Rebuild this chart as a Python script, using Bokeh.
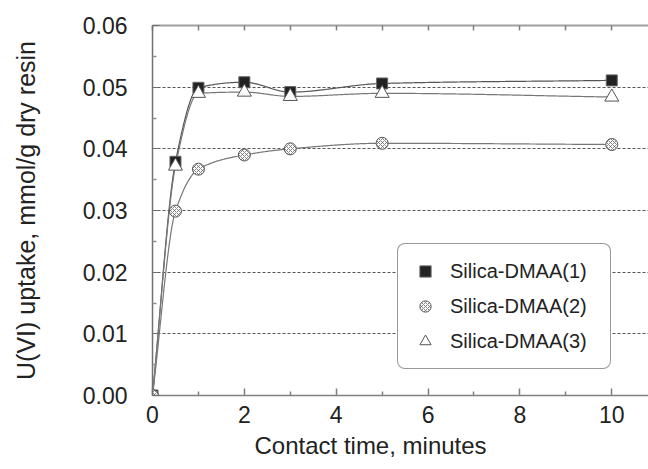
import numpy as np
from bokeh.plotting import figure
from bokeh.models import (Range1d, FixedTicker, PrintfTickFormatter, LinearAxis,
                          Legend, LegendItem, Title)
from bokeh.embed import file_html
from bokeh.resources import INLINE

# ---- data ----
time_min = [0, 0.5, 1, 2, 3, 5, 10]
dmaa1 = [0.0, 0.0379, 0.0499, 0.0508, 0.0492, 0.0506, 0.0511]
dmaa2 = [0.0, 0.0299, 0.0367, 0.0390, 0.0400, 0.0409, 0.0407]
dmaa3 = [0.0, 0.0372, 0.0490, 0.0492, 0.0485, 0.0490, 0.0484]
labels = ["Silica-DMAA(1)", "Silica-DMAA(2)", "Silica-DMAA(3)"]
x_ticks = [0, 2, 4, 6, 8, 10]
x_minor = [1, 3, 5, 7, 9]
top_ticks = [0, 1, 2, 3, 4, 5, 6, 7, 8, 9, 10]
y_ticks = [0.0, 0.01, 0.02, 0.03, 0.04, 0.05, 0.06]
y_minor = [0.005, 0.015, 0.025, 0.035, 0.045, 0.055]
grid_ticks = [0.01, 0.02, 0.03, 0.04, 0.05]
x_title = "Contact time, minutes"
y_title = "U(VI) uptake, mmol/g dry resin"

FONT = "Liberation Sans"
TXT = "#222222"


def pchip_curve(x, y, n=400):
    """Shape-preserving cubic Hermite curve through the data points."""
    x = np.asarray(x, float)
    y = np.asarray(y, float)
    h = np.diff(x)
    d = np.diff(y) / h
    m = np.zeros(len(x))
    m[0] = d[0]
    m[-1] = d[-1]
    for k in range(1, len(x) - 1):
        if d[k - 1] * d[k] <= 0:
            m[k] = 0.0
        else:
            w1 = 2 * h[k] + h[k - 1]
            w2 = h[k] + 2 * h[k - 1]
            m[k] = (w1 + w2) / (w1 / d[k - 1] + w2 / d[k])
    xs = np.linspace(x[0], x[-1], n)
    idx = np.clip(np.searchsorted(x, xs) - 1, 0, len(x) - 2)
    hh = h[idx]
    t = (xs - x[idx]) / hh
    h00 = 2 * t ** 3 - 3 * t ** 2 + 1
    h10 = t ** 3 - 2 * t ** 2 + t
    h01 = -2 * t ** 3 + 3 * t ** 2
    h11 = t ** 3 - t ** 2
    ys = h00 * y[idx] + h10 * hh * m[idx] + h01 * y[idx + 1] + h11 * hh * m[idx + 1]
    return xs, ys


p = figure(width=648, height=469, output_backend="svg", toolbar_location=None,
           x_range=Range1d(0, 10.8), y_range=Range1d(0, 0.06),
           min_border_left=152, min_border_right=0, min_border_top=25,
           min_border_bottom=74, background_fill_color="white",
           border_fill_color="white")
p.outline_line_color = None
p.xgrid.visible = False

# horizontal dashed grid
p.ygrid.ticker = FixedTicker(ticks=grid_ticks)
p.ygrid.grid_line_color = "#555555"
p.ygrid.grid_line_dash = "3 2"
p.ygrid.grid_line_width = 1

# bottom axis
xa = p.xaxis[0]
xa.ticker = FixedTicker(ticks=x_ticks, minor_ticks=x_minor)
xa.major_tick_in = 7
xa.major_tick_out = 0
xa.minor_tick_in = 4
xa.minor_tick_out = 0
xa.axis_line_color = "#808080"
xa.axis_line_width = 1.5
xa.major_tick_line_color = "#808080"
xa.minor_tick_line_color = "#808080"
xa.major_tick_line_width = 1.5
xa.minor_tick_line_width = 1.5
xa.major_label_text_font = FONT
xa.major_label_text_font_size = "23px"
xa.major_label_text_color = TXT
xa.major_label_standoff = 10

# left axis
ya = p.yaxis[0]
ya.ticker = FixedTicker(ticks=y_ticks, minor_ticks=y_minor)
ya.formatter = PrintfTickFormatter(format="%.2f")
ya.major_tick_in = 7
ya.major_tick_out = 0
ya.minor_tick_in = 4
ya.minor_tick_out = 0
ya.axis_line_color = "#707070"
ya.axis_line_width = 1.5
ya.major_tick_line_color = "#707070"
ya.minor_tick_line_color = "#909090"
ya.minor_tick_line_width = 1.5
ya.major_label_text_font = FONT
ya.major_label_text_font_size = "23px"
ya.major_label_text_color = TXT
ya.major_label_standoff = 25
ya.axis_label = y_title
ya.axis_label_text_font = FONT
ya.axis_label_text_font_size = "25px"
ya.axis_label_text_font_style = "normal"
ya.axis_label_text_color = TXT
ya.axis_label_standoff = 40

# top border axis: only minor ticks, so no labels are drawn
top = LinearAxis(ticker=FixedTicker(ticks=[], minor_ticks=top_ticks),
                 major_tick_in=0, major_tick_out=0, minor_tick_in=5, minor_tick_out=0,
                 major_label_standoff=0,
                 axis_line_color="#a0a0a0", axis_line_width=2,
                 minor_tick_line_color="#808080", minor_tick_line_width=1.5)
p.add_layout(top, "above")

# x axis title as a bottom title, centred under the 0-10 span
p.add_layout(Title(text=x_title, align="left", offset=102,
                   text_font=FONT, text_font_size="24px", text_font_style="normal",
                   text_color=TXT, standoff=9), "below")

# fitted curves
for ys, col in [(dmaa1, "#555555"), (dmaa3, "#777777"), (dmaa2, "#777777")]:
    sx, sy = pchip_curve(time_min, ys)
    p.line(sx, sy, line_color=col, line_width=1.2)

r1 = p.scatter(time_min, dmaa1, marker="square", size=11, fill_color="#222222",
               line_color="#666666", line_width=1)
r3 = p.scatter(time_min, dmaa3, marker="triangle", size=14, fill_color="white",
               line_color="#555555", line_width=1)
r2 = p.scatter(time_min, dmaa2, marker="circle", size=12, fill_color="white",
               line_color="#555555", line_width=1, hatch_pattern="diagonal_cross",
               hatch_color="#666666", hatch_scale=4, hatch_weight=0.8)

legend = Legend(items=[LegendItem(label=labels[0], renderers=[r1]),
                       LegendItem(label=labels[1], renderers=[r2]),
                       LegendItem(label=labels[2], renderers=[r3])],
                location=(245, 26), margin=0, padding=13, spacing=7,
                glyph_width=28, glyph_height=28, label_height=28, label_width=147,
                label_standoff=11, label_text_font=FONT, label_text_font_size="20px",
                label_text_color=TXT, border_line_color="#333333",
                border_line_width=1.5, background_fill_color="white",
                background_fill_alpha=1.0)
if "border_radius" in Legend.properties():
    legend.border_radius = 8
p.add_layout(legend, "center")

open("out.html", "w").write(file_html(p, INLINE))
